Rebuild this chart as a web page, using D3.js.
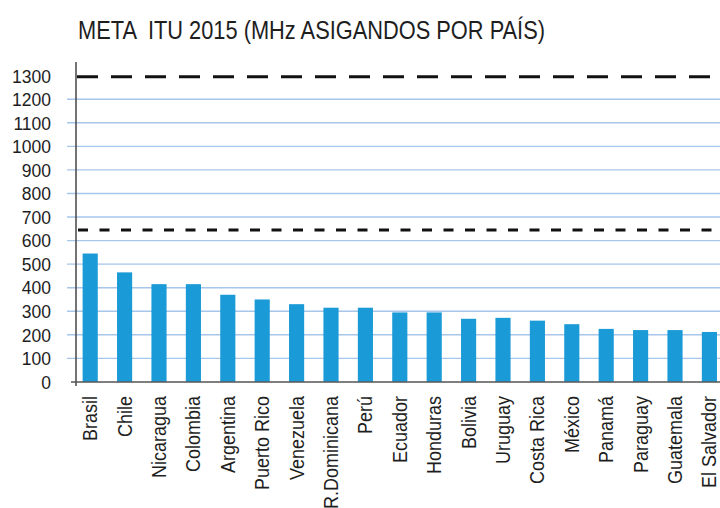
<!DOCTYPE html>
<html>
<head>
<meta charset="utf-8">
<script src="https://cdn.jsdelivr.net/npm/d3@7"></script>
<style>
  body { margin: 0; background: #fff; }
  text { font-family: "Liberation Sans", Arial, sans-serif; fill: #1e1e1e; }
</style>
</head>
<body>
<svg id="mainsvg" width="720" height="508"></svg>
<script>
// datos
const countries = ['Brasil','Chile','Nicaragua','Colombia','Argentina','Puerto Rico','Venezuela','R.Dominicana','Perú','Ecuador','Honduras','Bolivia','Uruguay','Costa Rica','México','Panamá','Paraguay','Guatemala','El Salvador']
const mhz = [545,465,415,415,370,350,330,315,315,295,295,268,272,260,245,225,220,220,212]
const yTicks = [0,100,200,300,400,500,600,700,800,900,1000,1100,1200,1300]
const metas = [1300,645]
const title = 'META  ITU 2015 (MHz ASIGANDOS POR PAÍS)'

const svg = d3.select('#mainsvg')

let x = d3.scaleBand().domain(countries).range([73,726.6]).paddingInner(0.56).paddingOuter(0.28)
let y = d3.scaleLinear().domain([0,1300]).range([381.9,75.7])

// lineas de grilla
svg.append('g').selectAll('line')
  .data(yTicks.filter(d => d > 0 && d < 1300))
  .enter().append('line')
  .attr('x1',67).attr('x2',720)
  .attr('y1',d => y(d)).attr('y2',d => y(d))
  .attr('stroke','#a6c6ea').attr('stroke-width',1.4)

// etiquetas eje y
svg.append('g').selectAll('text')
  .data(yTicks)
  .enter().append('text')
  .attr('transform',d => `translate(51,${y(d)}) scale(1,1.08)`)
  .attr('dy','0.36em')
  .attr('text-anchor','end')
  .style('font-size','17.5px')
  .text(d => d)

// barras
svg.append('g').selectAll('rect')
  .data(countries)
  .enter().append('rect')
  .attr('x',d => x(d))
  .attr('width',x.bandwidth())
  .attr('y',(d,i) => y(mhz[i]))
  .attr('height',(d,i) => y(0) - y(mhz[i]))
  .attr('fill','#1a9ad6')

// ejes
svg.append('line')
  .attr('x1',76).attr('x2',76).attr('y1',62).attr('y2',386)
  .attr('stroke','#444').attr('stroke-width',1.5)
svg.append('line')
  .attr('x1',71).attr('x2',720).attr('y1',y(0)).attr('y2',y(0))
  .attr('stroke','#555').attr('stroke-width',1.5)

// metas (lineas discontinuas)
svg.append('line')
  .attr('x1',77).attr('x2',720).attr('y1',y(metas[0]) + 1).attr('y2',y(metas[0]) + 1)
  .attr('stroke','#111').attr('stroke-width',3).attr('stroke-dasharray','21,13')
svg.append('line')
  .attr('x1',78).attr('x2',720).attr('y1',y(metas[1])).attr('y2',y(metas[1]))
  .attr('stroke','#111').attr('stroke-width',3).attr('stroke-dasharray','10,11.5')

// etiquetas eje x (verticales)
svg.append('g').selectAll('text')
  .data(countries)
  .enter().append('text')
  .attr('transform',d => `translate(${x(d) + x.bandwidth() / 2},396) rotate(-90) scale(1,1.12)`)
  .attr('dy','0.35em')
  .attr('text-anchor','end')
  .style('font-size','18px')
  .text(d => d)

// titulo
svg.append('text')
  .attr('x',78).attr('y',39)
  .attr('textLength',467)
  .attr('lengthAdjust','spacingAndGlyphs')
  .style('font-size','25px')
  .style('white-space','pre')
  .text(title)
</script>
</body>
</html>
